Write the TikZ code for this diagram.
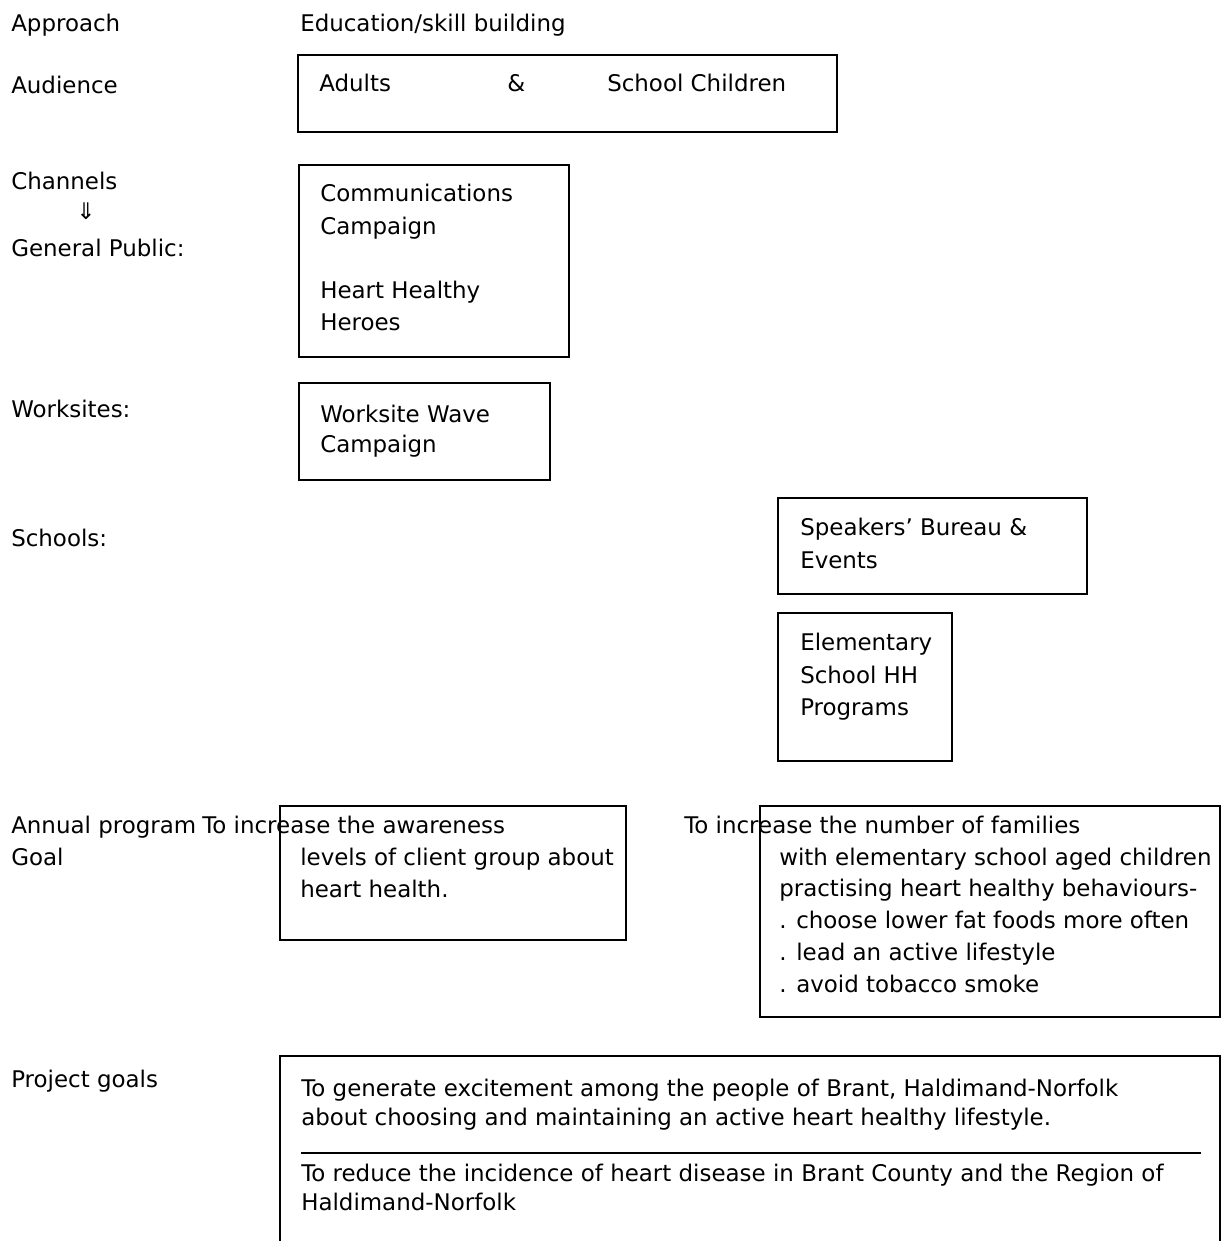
\documentclass[tikz,border=0pt]{standalone}
\usepackage{fontspec}
\setmainfont{DejaVu Sans}
\usetikzlibrary{fit}
\begin{document}
\begin{tikzpicture}[x=0.75pt,y=-0.75pt,
  txt/.style={anchor=base west,inner sep=0pt,font=\fontsize{17.2pt}{20pt}\selectfont},
  box/.style={draw,line width=1.5pt,inner sep=0pt},
  rule/.style={line width=2.2pt}]
\useasboundingbox (0,0) rectangle (1222,1241);
% left labels
\node[txt] (lapp) at (11,32) {Approach};
\node[txt] (laud) at (11,94) {Audience};
\node[txt] (lchan) at (11,190) {Channels};
\node[anchor=center,inner sep=0pt,font=\fontsize{17.2pt}{20pt}\selectfont] (larr) at (86,211) {⇓};
\node[txt] (lgen) at (11,257) {General Public:};
\node[txt] (lwork) at (11,417) {Worksites:};
\node[txt] (lsch) at (11,546) {Schools:};
\node[txt] (lann) at (11,833) {Annual program};
\node[txt] (lgoal) at (11,865) {Goal};
\node[txt] (lproj) at (11,1087) {Project goals};
% approach
\node[txt] (edu) at (300,32) {Education/skill building};
% audience
\node[box,fit={(298,55) (837,132)}] (aud) {};
\node[txt] (adults) at (319,92) {Adults};
\node[txt] (amp) at (507,92) {\&};
\node[txt] (child) at (607,92) {School Children};
% general public
\node[box,fit={(299,165) (569,357)}] (comm) {};
\node[txt] (c1) at (320,202) {Communications};
\node[txt] (c2) at (320,235) {Campaign};
\node[txt] (c3) at (320,298) {Heart Healthy};
\node[txt] (c4) at (320,330) {Heroes};
% worksites
\node[box,fit={(299,383) (550,480)}] (work) {};
\node[txt] (w1) at (320,422) {Worksite Wave};
\node[txt] (w2) at (320,452) {Campaign};
% schools
\node[box,fit={(778,498) (1087,594)}] (spk) {};
\node[txt] (s1) at (800,535) {Speakers’ Bureau \&};
\node[txt] (s2) at (800,568) {Events};
\node[box,fit={(778,613) (952,761)}] (elem) {};
\node[txt] (e1) at (800,650) {Elementary};
\node[txt] (e2) at (800,683) {School HH};
\node[txt] (e3) at (800,715) {Programs};
% annual program goals
\node[box,fit={(280,806) (626,940)}] (g1) {};
\node[txt] (g1a) at (202,833) {To increase the awareness};
\node[txt] (g1b) at (300,865) {levels of client group about};
\node[txt] (g1c) at (300,897) {heart health.};
\node[box,fit={(760,806) (1220,1017)}] (g2) {};
\node[txt] (g2a) at (684,833) {To increase the number of families};
\node[txt] (g2b) at (779,865) {with elementary school aged children};
\node[txt] (g2c) at (779,896) {practising heart healthy behaviours-};
\node[txt] (g2d) at (779,928) {. choose lower fat foods more often};
\node[txt] (g2e) at (779,960) {. lead an active lifestyle};
\node[txt] (g2f) at (779,992) {. avoid tobacco smoke};
% project goals
\coordinate (pbl) at (280,1241);
\coordinate (ptl) at (280,1056);
\coordinate (ptr) at (1220,1056);
\coordinate (pbr) at (1220,1241);
\draw[line width=1.5pt] (pbl) -- (ptl) -- (ptr) -- (pbr);
\node[txt] (p1) at (301,1096) {To generate excitement among the people of Brant, Haldimand-Norfolk};
\node[txt] (p2) at (301,1125) {about choosing and maintaining an active heart healthy lifestyle.};
\coordinate (rl) at (301,1153);
\coordinate (rr) at (1201,1153);
\draw[rule] (rl) -- (rr);
\node[txt] (p3) at (301,1181) {To reduce the incidence of heart disease in Brant County and the Region of};
\node[txt] (p4) at (301,1210) {Haldimand-Norfolk};
\end{tikzpicture}
\end{document}
